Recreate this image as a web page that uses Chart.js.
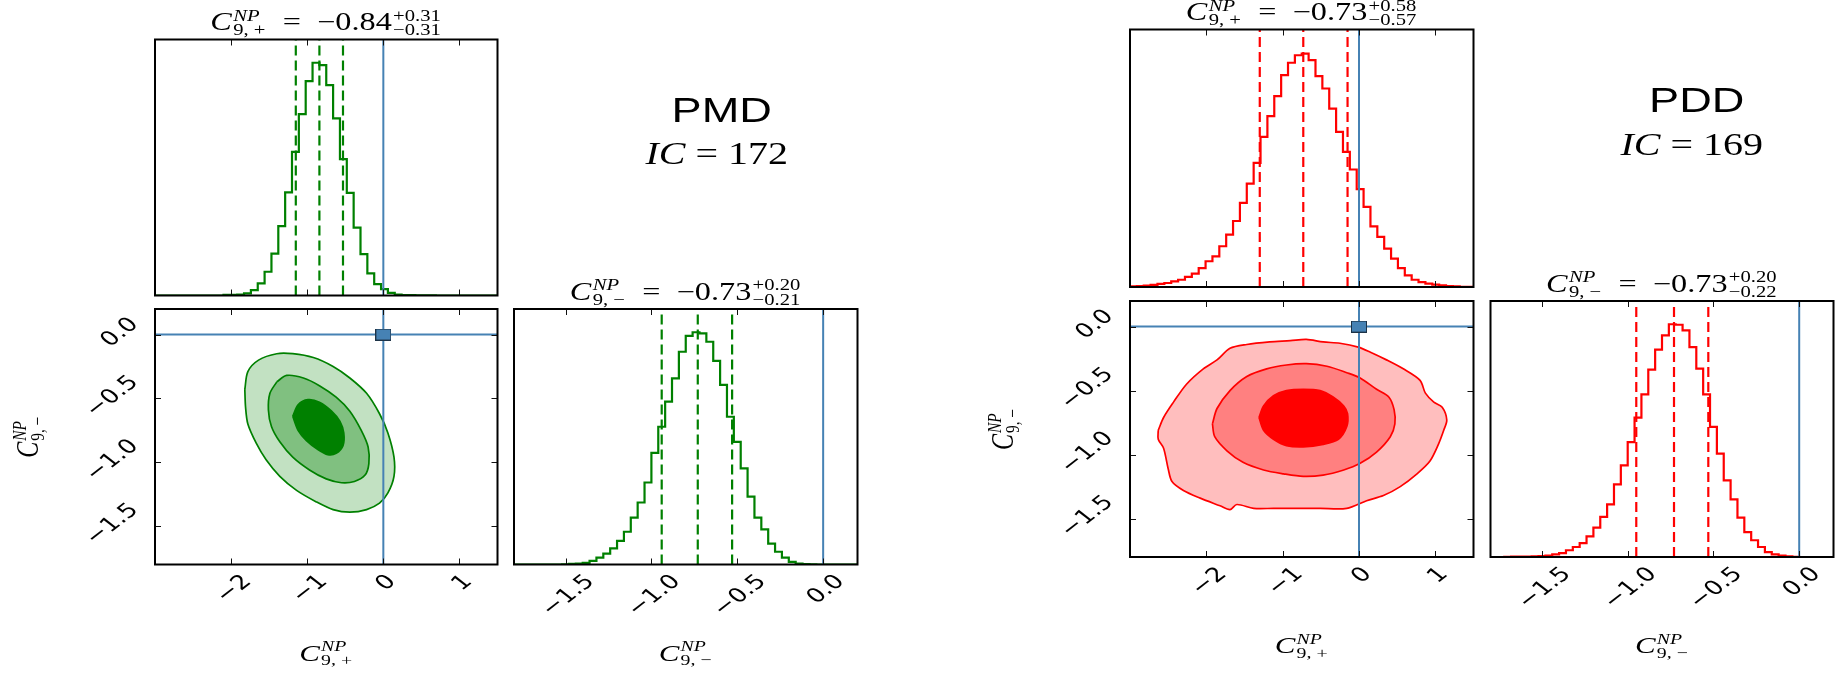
<!DOCTYPE html>
<html>
<head>
<meta charset="utf-8">
<title>PMD / PDD corner plots</title>
<script src="https://cdn.jsdelivr.net/npm/chart.js@4.4.1/dist/chart.umd.min.js"></script>
<style>
  html, body { margin: 0; padding: 0; background: #fff; }
  #page { position: relative; width: 1842px; height: 674px; overflow: hidden; background: #fff; }
  #page canvas { position: absolute; left: 0; top: 0; }
</style>
</head>
<body>
<div id="page">
  <canvas id="pmdTop" width="1842" height="674"></canvas>
  <canvas id="pmd2d" width="1842" height="674"></canvas>
  <canvas id="pmdSide" width="1842" height="674"></canvas>
  <canvas id="pddTop" width="1842" height="674"></canvas>
  <canvas id="pdd2d" width="1842" height="674"></canvas>
  <canvas id="pddSide" width="1842" height="674"></canvas>
</div>
<script>
// ---- axes ----
const plusRange = [-3, 1.5];
const minusRange = [-1.8, 0.2];
const histRange = [0, 1.1];
const plusTicks = [-2, -1, 0, 1];
const plusTickLabels = ['\u22122', '\u22121', '0', '1'];
const minusTicks = [-1.5, -1.0, -0.5, 0.0];
const minusTickLabels = ['\u22121.5', '\u22121.0', '\u22120.5', '0.0'];
const truthPoint = [0, 0];

// ---- PMD (50 bins each, normalised to the peak) ----
const pmdPlusHist = [0, 0, 0, 0, 0, 0, 0, 0, 0, 0,
  0.003, 0.003, 0.004, 0.009, 0.023, 0.052, 0.102, 0.180, 0.298, 0.443,
  0.617, 0.779, 0.921, 1.000, 0.990, 0.904, 0.761, 0.586, 0.441, 0.292,
  0.178, 0.095, 0.049, 0.027, 0.011, 0.004, 0.002, 0.002, 0.001, 0.001,
  0.001, 0, 0, 0, 0, 0, 0, 0, 0, 0];
const pmdMinusHist = [0, 0, 0, 0, 0, 0, 0, 0.001, 0.003, 0.004,
  0.007, 0.016, 0.030, 0.047, 0.069, 0.102, 0.141, 0.202, 0.267, 0.353,
  0.481, 0.593, 0.701, 0.801, 0.916, 0.984, 1.000, 0.995, 0.959, 0.877,
  0.773, 0.636, 0.528, 0.414, 0.292, 0.202, 0.151, 0.090, 0.055, 0.030,
  0.011, 0.004, 0.002, 0.001, 0, 0, 0, 0, 0, 0];
const pmdPlusQuant = [-1.15, -0.84, -0.53];
const pmdMinusQuant = [-0.94, -0.73, -0.53];
const pmdIC = 172;
const pmdOuter = [[-1.82,-0.43],[-1.78,-0.29],[-1.64,-0.20],[-1.40,-0.15],[-1.19,-0.15],[-0.92,-0.18],[-0.66,-0.25],[-0.44,-0.34],[-0.22,-0.46],[-0.05,-0.62],[0.06,-0.77],[0.14,-0.96],[0.14,-1.11],[0.06,-1.24],[-0.05,-1.32],[-0.22,-1.37],[-0.44,-1.39],[-0.66,-1.37],[-0.88,-1.31],[-1.14,-1.22],[-1.36,-1.11],[-1.54,-0.98],[-1.67,-0.85],[-1.78,-0.70],[-1.81,-0.57]];
const pmdMid = [[-1.40,-0.37],[-1.27,-0.32],[-1.05,-0.34],[-0.84,-0.40],[-0.62,-0.49],[-0.44,-0.60],[-0.29,-0.75],[-0.20,-0.88],[-0.19,-1.01],[-0.24,-1.10],[-0.38,-1.15],[-0.55,-1.16],[-0.75,-1.13],[-0.97,-1.06],[-1.19,-0.96],[-1.36,-0.84],[-1.47,-0.72],[-1.51,-0.59],[-1.49,-0.46]];
const pmdInner = [[-1.19,-0.64],[-1.12,-0.55],[-0.99,-0.51],[-0.84,-0.53],[-0.68,-0.60],[-0.57,-0.68],[-0.52,-0.77],[-0.53,-0.87],[-0.62,-0.93],[-0.73,-0.94],[-0.86,-0.90],[-1.01,-0.83],[-1.12,-0.75]];

// ---- PDD ----
const pddPlusHist = [0.003, 0.004, 0.006, 0.009, 0.013, 0.017, 0.024, 0.031, 0.043, 0.057,
  0.081, 0.110, 0.131, 0.174, 0.224, 0.282, 0.359, 0.442, 0.530, 0.641,
  0.730, 0.815, 0.905, 0.958, 0.990, 0.997, 0.969, 0.901, 0.848, 0.762,
  0.663, 0.577, 0.502, 0.418, 0.342, 0.259, 0.214, 0.164, 0.121, 0.081,
  0.050, 0.031, 0.021, 0.014, 0.010, 0.007, 0.004, 0.003, 0.001, 0.001];
const pddMinusHist = [0, 0, 0.001, 0.002, 0.002, 0.002, 0.003, 0.004, 0.006, 0.011,
  0.017, 0.029, 0.043, 0.060, 0.089, 0.126, 0.172, 0.226, 0.312, 0.394,
  0.494, 0.599, 0.699, 0.805, 0.891, 0.952, 1.000, 0.998, 0.974, 0.902,
  0.809, 0.699, 0.559, 0.444, 0.329, 0.248, 0.169, 0.107, 0.072, 0.043,
  0.021, 0.011, 0.006, 0.003, 0.001, 0, 0, 0, 0, 0];
const pddPlusQuant = [-1.30, -0.73, -0.15];
const pddMinusQuant = [-0.95, -0.73, -0.53];
const pddIC = 169;
const pddOuter = [[-2.63,-0.81],[-2.56,-0.71],[-2.43,-0.59],[-2.26,-0.45],[-2.04,-0.33],[-1.86,-0.26],[-1.69,-0.17],[-1.47,-0.14],[-1.17,-0.12],[-0.90,-0.11],[-0.69,-0.10],[-0.47,-0.12],[-0.25,-0.13],[-0.01,-0.16],[0.15,-0.20],[0.36,-0.26],[0.58,-0.33],[0.80,-0.42],[0.87,-0.52],[0.98,-0.59],[1.09,-0.63],[1.15,-0.73],[1.11,-0.81],[1.04,-0.92],[0.93,-1.05],[0.76,-1.15],[0.54,-1.25],[0.32,-1.32],[0.10,-1.36],[-0.16,-1.42],[-0.51,-1.42],[-0.86,-1.42],[-1.12,-1.42],[-1.38,-1.42],[-1.60,-1.39],[-1.69,-1.43],[-1.82,-1.40],[-2.08,-1.34],[-2.30,-1.28],[-2.45,-1.21],[-2.50,-1.11],[-2.56,-0.95],[-2.63,-0.88]];
const pddMid = [[-1.92,-0.76],[-1.86,-0.64],[-1.69,-0.50],[-1.47,-0.39],[-1.21,-0.33],[-0.95,-0.30],[-0.69,-0.29],[-0.42,-0.31],[-0.16,-0.36],[0.01,-0.40],[0.23,-0.49],[0.39,-0.55],[0.46,-0.65],[0.47,-0.76],[0.41,-0.86],[0.23,-0.98],[0.01,-1.07],[-0.20,-1.12],[-0.47,-1.16],[-0.73,-1.17],[-0.99,-1.15],[-1.25,-1.12],[-1.52,-1.06],[-1.73,-0.97],[-1.89,-0.86]];
const pddInner = [[-1.31,-0.71],[-1.25,-0.62],[-1.12,-0.54],[-0.95,-0.50],[-0.73,-0.49],[-0.51,-0.50],[-0.34,-0.55],[-0.20,-0.62],[-0.15,-0.68],[-0.16,-0.78],[-0.27,-0.88],[-0.47,-0.92],[-0.73,-0.94],[-0.95,-0.93],[-1.12,-0.88],[-1.25,-0.81]];

// ---- look ----
const W = 1842, H = 674;
const SX = 1.29;                 // the figure is stretched horizontally
const SERIF = '"Liberation Serif", serif';
const SANS = '"Liberation Sans", sans-serif';
const TICK_FONT = '20px "DejaVu Sans"';
const BLUE = '#4682b4';
const GREEN = {line: '#008000', fills: ['#008000', 'rgb(128,192,128)', 'rgb(194,225,194)']};
const RED = {line: '#ff0000', fills: ['#ff0000', 'rgb(255,128,128)', 'rgb(255,190,190)']};

// panel boxes: left, top, right, bottom
const boxes = {
  pmdTop: [155, 39.5, 497.5, 295.5],
  pmd2d: [155, 309, 497.5, 564.5],
  pmdSide: [514, 309, 857.5, 564.5],
  pddTop: [1130, 29.5, 1473.5, 287],
  pdd2d: [1130, 301, 1473.5, 557],
  pddSide: [1490.5, 301, 1833.5, 557]
};

const fmt = v => (v < 0 ? '\u2212' : '') + Math.abs(v).toFixed(2);
const labPlus = [{t: 'C', i: true}, {sup: 'NP', supI: true, sub: '9, +'}];
const labMinus = [{t: 'C', i: true}, {sup: 'NP', supI: true, sub: '9, \u2212'}];
function titleFor(lab, q) {
  return lab.concat([{t: '  =  '}, {t: fmt(q[1])},
    {sup: '+' + (q[2] - q[1]).toFixed(2), sub: '\u2212' + (q[1] - q[0]).toFixed(2)}]);
}

function drawMath(ctx, items, cx, base, size, family, sx) {
  const small = size * 0.64;
  const font = (s, it) => (it ? 'italic ' : '') + s + 'px ' + family;
  const widths = items.map(it => {
    if (it.sup !== undefined) {
      ctx.font = font(small, it.supI);
      const a = ctx.measureText(it.sup).width;
      ctx.font = font(small, false);
      const b = ctx.measureText(it.sub).width;
      return Math.max(a, b) + size * 0.08;
    }
    ctx.font = font(size, it.i);
    return ctx.measureText(it.t).width;
  });
  const total = widths.reduce((s, w) => s + w, 0);
  ctx.save();
  ctx.translate(cx, base);
  ctx.scale(sx, 1);
  ctx.textAlign = 'left';
  ctx.textBaseline = 'alphabetic';
  let x = -total / 2;
  items.forEach((it, k) => {
    if (it.sup !== undefined) {
      ctx.font = font(small, it.supI);
      ctx.fillText(it.sup, x + size * 0.04, -size * 0.38);
      ctx.font = font(small, false);
      ctx.fillText(it.sub, x + size * 0.04, size * 0.2);
    } else {
      ctx.font = font(size, it.i);
      ctx.fillText(it.t, x, 0);
    }
    x += widths[k];
  });
  ctx.restore();
}

function seg(ctx, x0, y0, x1, y1) {
  ctx.beginPath(); ctx.moveTo(x0, y0); ctx.lineTo(x1, y1); ctx.stroke();
}

// frame, inward ticks, rotated tick labels and the math texts
function cornerPlugin(d) {
  return {
    id: 'corner',
    afterDatasetsDraw(chart) {
      const {ctx, chartArea: a} = chart;
      const xs = chart.scales.x, ys = chart.scales.y;
      ctx.save();
      ctx.strokeStyle = '#111';
      ctx.lineWidth = 1;
      d.xTicks.forEach(v => {
        const p = Math.round(xs.getPixelForValue(v)) + 0.5;
        seg(ctx, p, a.top, p, a.top + 6);
        seg(ctx, p, a.bottom, p, a.bottom - 6);
      });
      (d.yTicks || []).forEach(v => {
        const p = Math.round(ys.getPixelForValue(v)) + 0.5;
        seg(ctx, a.left, p, a.left + 6, p);
        seg(ctx, a.right, p, a.right - 6, p);
      });
      ctx.strokeStyle = '#000';
      ctx.lineWidth = 2;
      ctx.strokeRect(a.left, a.top, a.right - a.left, a.bottom - a.top);

      ctx.fillStyle = '#000';
      ctx.font = TICK_FONT;
      ctx.textAlign = 'center';
      ctx.textBaseline = 'middle';
      if (d.xLabels) d.xLabels.forEach((lab, k) => {
        const L = ctx.measureText(lab).width;
        const h = (L + 14) / Math.SQRT2;
        ctx.save();
        ctx.translate(xs.getPixelForValue(d.xTicks[k]) + 3, a.bottom + 9 + h / 2);
        ctx.scale(SX, 1);
        ctx.rotate(-Math.PI / 4);
        ctx.fillText(lab, 0, 0);
        ctx.restore();
      });
      if (d.yLabels) d.yLabels.forEach((lab, k) => {
        const L = ctx.measureText(lab).width;
        const w = SX * (L + 14) / Math.SQRT2;
        ctx.save();
        ctx.translate(a.left - 14 - w / 2, ys.getPixelForValue(d.yTicks[k]) - 2);
        ctx.scale(SX, 1);
        ctx.rotate(-Math.PI / 4);
        ctx.fillText(lab, 0, 0);
        ctx.restore();
      });

      const cx = (a.left + a.right) / 2;
      if (d.title) drawMath(ctx, d.title, cx, a.top - 9.5, 25, SERIF, SX);
      if (d.xTitle) drawMath(ctx, d.xTitle, cx, a.bottom + 96, 24, SERIF, SX);
      if (d.yTitle) {
        ctx.save();
        ctx.translate(a.left - 126, (a.top + a.bottom) / 2);
        ctx.scale(SX, 1);
        ctx.rotate(-Math.PI / 2);
        drawMath(ctx, d.yTitle, 0, 7, 24, SERIF, 1);
        ctx.restore();
      }
      (d.notes || []).forEach(n => drawMath(ctx, n.items, n.x, n.y, n.size, n.family, SX));
      ctx.restore();
    }
  };
}

// ---- dataset builders ----
function histDataset(range, vals, color) {
  const w = (range[1] - range[0]) / vals.length;
  const pts = vals.map((v, i) => ({x: range[0] + i * w, y: v}));
  pts.push({x: range[1], y: vals[vals.length - 1]});
  return {data: pts, showLine: true, stepped: true, borderColor: color, borderWidth: 2.2,
          pointRadius: 0, fill: false};
}
function vline(x, yr, color, width, dash) {
  return {data: [{x: x, y: yr[0]}, {x: x, y: yr[1]}], showLine: true, borderColor: color,
          borderWidth: width, borderDash: dash || [], pointRadius: 0};
}
function hline(y, xr, color, width) {
  return {data: [{x: xr[0], y: y}, {x: xr[1], y: y}], showLine: true, borderColor: color,
          borderWidth: width, pointRadius: 0};
}
function contour(pts, fillColor, lineColor) {
  const d = pts.map(p => ({x: p[0], y: p[1]}));
  d.push({x: pts[0][0], y: pts[0][1]});
  return {data: d, showLine: true, fill: 'shape', backgroundColor: fillColor,
          borderColor: lineColor, borderWidth: 1.7, tension: 0.3, pointRadius: 0};
}

// small stretched square for the true point
const marker = document.createElement('canvas');
marker.width = 16; marker.height = 12;
(function () {
  const m = marker.getContext('2d');
  m.fillStyle = BLUE; m.fillRect(0.5, 0.5, 15, 11);
  m.strokeStyle = '#1d3347'; m.lineWidth = 1; m.strokeRect(0.5, 0.5, 15, 11);
})();

function histSet(range, vals, quant, col) {
  return [
    vline(0, histRange, BLUE, 2),
    ...quant.map(q => vline(q, histRange, col.line, 2.2, [10, 5])),
    histDataset(range, vals, col.line)
  ];
}
function set2d(outer, mid, inner, col) {
  return [
    {data: [{x: truthPoint[0], y: truthPoint[1]}], pointStyle: marker, pointRadius: 8, showLine: false},
    hline(truthPoint[1], plusRange, BLUE, 2),
    vline(truthPoint[0], minusRange, BLUE, 2),
    contour(inner, col.fills[0], col.line),
    contour(mid, col.fills[1], col.line),
    contour(outer, col.fills[2], col.line)
  ];
}

function makeChart(id, xr, yr, datasets, deco) {
  const b = boxes[id];
  return new Chart(document.getElementById(id), {
    type: 'scatter',
    data: {datasets: datasets},
    options: {
      responsive: false,
      animation: false,
      events: [],
      layout: {padding: {left: b[0], top: b[1], right: W - b[2], bottom: H - b[3]}},
      plugins: {legend: {display: false}, tooltip: {enabled: false}},
      scales: {
        x: {type: 'linear', min: xr[0], max: xr[1], display: false},
        y: {type: 'linear', min: yr[0], max: yr[1], display: false}
      }
    },
    plugins: [cornerPlugin(deco)]
  });
}

function icItems(v) { return [{t: 'IC', i: true}, {t: ' = '}, {t: String(v)}]; }

// ---- PMD ----
makeChart('pmdTop', plusRange, histRange, histSet(plusRange, pmdPlusHist, pmdPlusQuant, GREEN), {
  xTicks: plusTicks, title: titleFor(labPlus, pmdPlusQuant),
  notes: [
    {items: [{t: 'PMD'}], x: 721.7, y: 121.7, size: 35, family: SANS},
    {items: icItems(pmdIC), x: 716.7, y: 164, size: 31, family: SERIF}
  ]
});
makeChart('pmd2d', plusRange, minusRange, set2d(pmdOuter, pmdMid, pmdInner, GREEN), {
  xTicks: plusTicks, xLabels: plusTickLabels, yTicks: minusTicks, yLabels: minusTickLabels,
  xTitle: labPlus, yTitle: labMinus
});
makeChart('pmdSide', minusRange, histRange, histSet(minusRange, pmdMinusHist, pmdMinusQuant, GREEN), {
  xTicks: minusTicks, xLabels: minusTickLabels, title: titleFor(labMinus, pmdMinusQuant), xTitle: labMinus
});

// ---- PDD ----
makeChart('pddTop', plusRange, histRange, histSet(plusRange, pddPlusHist, pddPlusQuant, RED), {
  xTicks: plusTicks, title: titleFor(labPlus, pddPlusQuant),
  notes: [
    {items: [{t: 'PDD'}], x: 1696.7, y: 111.7, size: 35, family: SANS},
    {items: icItems(pddIC), x: 1691.7, y: 155, size: 31, family: SERIF}
  ]
});
makeChart('pdd2d', plusRange, minusRange, set2d(pddOuter, pddMid, pddInner, RED), {
  xTicks: plusTicks, xLabels: plusTickLabels, yTicks: minusTicks, yLabels: minusTickLabels,
  xTitle: labPlus, yTitle: labMinus
});
makeChart('pddSide', minusRange, histRange, histSet(minusRange, pddMinusHist, pddMinusQuant, RED), {
  xTicks: minusTicks, xLabels: minusTickLabels, title: titleFor(labMinus, pddMinusQuant), xTitle: labMinus
});
</script>
</body>
</html>
